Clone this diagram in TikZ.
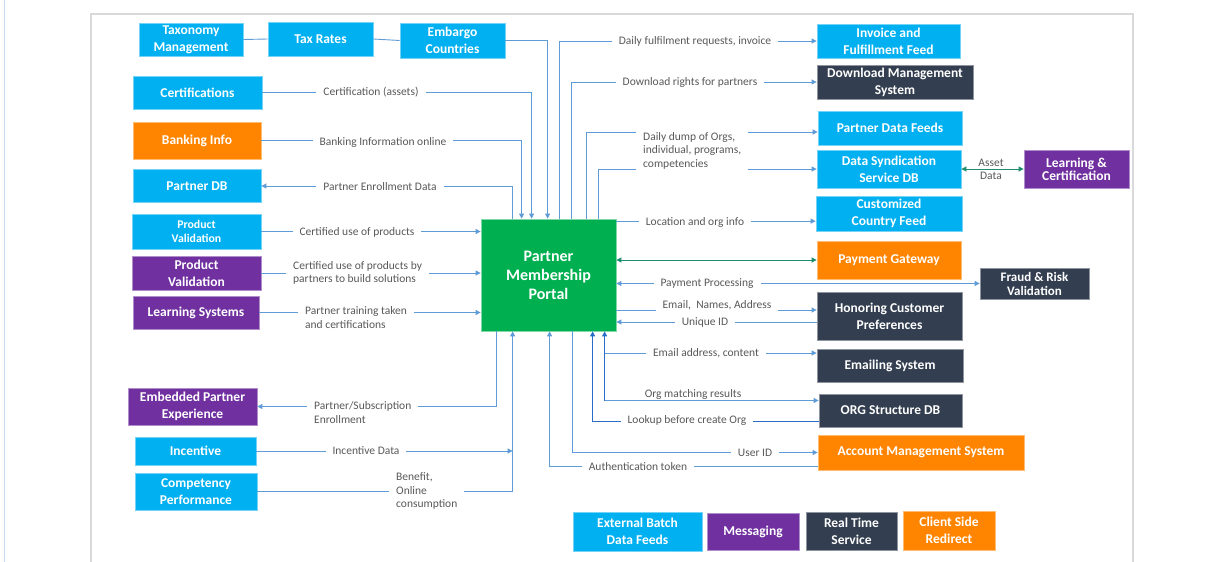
\documentclass[tikz,border=0pt]{standalone}
\usepackage{fontspec}
\setmainfont{Carlito}
\usetikzlibrary{arrows.meta,calc}
\definecolor{cblue}{RGB}{0,176,240}
\definecolor{corange}{RGB}{255,133,0}
\definecolor{cpurple}{RGB}{112,48,160}
\definecolor{cdark}{RGB}{51,63,80}
\definecolor{cgreen}{RGB}{0,176,80}
\definecolor{cteal}{RGB}{30,140,110}
\definecolor{cline}{RGB}{95,155,215}
\definecolor{cdline}{RGB}{40,110,200}
\definecolor{ctext}{RGB}{89,89,89}
\definecolor{cframe}{RGB}{217,217,217}
\definecolor{cedge}{RGB}{200,218,240}
\begin{document}
\begin{tikzpicture}[x=1pt,y=-1pt,
  >={Triangle[length=5pt,width=5pt]},
  box/.style={rectangle, text=white, font=\bfseries\fontsize{13.5}{17}\selectfont, align=center, inner sep=0pt, line width=0.8pt},
  sz/.style 2 args={minimum width=#1pt, minimum height=#2pt},
  bluebox/.style={box, fill=cblue, draw=cblue!55!white},
  orangebox/.style={box, fill=corange, draw=corange!55!white},
  purplebox/.style={box, fill=cpurple, draw=cpurple!55!white},
  darkbox/.style={box, fill=cdark, draw=cdark!55!white},
  portalbox/.style={box, fill=cgreen, draw=cgreen!50!white, font=\bfseries\fontsize{16}{19}\selectfont},
  conn/.style={draw=cline, line width=0.9pt},
  dconn/.style={draw=cdline, line width=0.9pt},
  tconn/.style={draw=cteal, line width=0.9pt},
  lbl/.style={fill=white, text=ctext, font=\fontsize{11.5}{13.5}\selectfont, inner xsep=7pt, inner ysep=1.5pt, align=left},
  lblw/.style={lbl, anchor=west}
]
\useasboundingbox (0,0) rectangle (1229,562);
\fill[white] (0,0) rectangle (1229,562);
\draw[cedge, line width=1.5pt] (4.5,0) -- (4.5,562);
\draw[cframe, line width=1.2pt] (91,562) -- (91,14) -- (1133,14) -- (1133,562);

% left nodes
\node[bluebox, sz={104}{33}] (tax) at (191,39.5) {Taxonomy\\Management};
\node[bluebox, sz={105}{34}] (taxr) at (320.5,39) {Tax Rates};
\node[bluebox, sz={105}{35}] (emb) at (452.5,40.5) {Embargo\\Countries};
\node[bluebox, sz={129}{33}] (cert) at (197.5,92.5) {Certifications};
\node[orangebox, sz={128}{37}] (bank) at (197,140.5) {Banking Info};
\node[bluebox, sz={128}{33}] (pdb) at (197,186) {Partner DB};
\node[bluebox, sz={129}{35}, font=\bfseries\fontsize{11.8}{14}\selectfont] (pv1) at (196.5,231.5) {Product\\Validation};
\node[purplebox, sz={129}{34}] (pv2) at (196.5,273) {Product\\Validation};
\node[purplebox, sz={126}{33}] (ls) at (196,312.5) {Learning Systems};
\node[purplebox, sz={129}{37}] (epe) at (192.5,406.5) {Embedded Partner\\Experience};
\node[bluebox, sz={121}{28}] (inc) at (195.5,451) {Incentive};
\node[bluebox, sz={122}{37}] (comp) at (196,491.5) {Competency\\Performance};
\node[portalbox, sz={135}{112}] (portal) at (548.5,275) {Partner\\Membership\\Portal};

% right nodes
\node[bluebox, sz={143}{34}] (inv) at (888.5,41) {Invoice and\\Fulfillment Feed};
\node[darkbox, sz={156}{34}] (dms) at (895,82) {Download Management\\System};
\node[bluebox, sz={144}{34}] (pdf) at (890,128) {Partner Data Feeds};
\node[bluebox, sz={144}{38}] (dss) at (889,169) {Data Syndication\\Service DB};
\node[purplebox, sz={105}{38}, font=\bfseries\fontsize{13.5}{13}\selectfont] (lc) at (1076.5,169) {Learning \&\\Certification};
\node[bluebox, sz={146}{35}] (ccf) at (889,213.5) {Customized\\Country Feed};
\node[orangebox, sz={144}{38}] (pg) at (889,260) {Payment Gateway};
\node[darkbox, sz={109}{31}, font=\bfseries\fontsize{13}{14}\selectfont] (frv) at (1034.5,283.5) {Fraud \& Risk\\Validation};
\node[darkbox, sz={145}{48}] (hcp) at (889.5,316) {Honoring Customer\\Preferences};
\node[darkbox, sz={146}{33}] (ems) at (890,365.5) {Emailing System};
\node[darkbox, sz={143}{33}] (org) at (890.5,410.5) {ORG Structure DB};
\node[orangebox, sz={206}{35}] (ams) at (921,452.5) {Account Management System};

% legend
\node[bluebox, sz={129}{39}] (lg1) at (637.5,531.5) {External Batch\\Data Feeds};
\node[purplebox, sz={92}{37}] (lg2) at (753,531.5) {Messaging};
\node[darkbox, sz={91}{38}] (lg3) at (851.5,531) {Real Time\\Service};
\node[orangebox, sz={92}{39}] (lg4) at (949,530.5) {Client Side\\Redirect};

\coordinate (pn) at (portal.north west);
\coordinate (ps) at (portal.south west);

% top left connectors
\draw[conn] (tax.east) -- (taxr.west);
\draw[conn] (taxr.east) -- (emb.west);
\draw[conn,->] (emb.east) -| ($(pn)+(67,0)$);
\draw[conn,->] (cert.east) -| ($(pn)+(51,0)$);
\draw[conn,->] (bank.east) -| ($(pn)+(41,0)$);
\draw[conn,->] ($(pn)+(32,0)$) |- (pdb.east);
% top right connectors
\draw[conn,->] ($(pn)+(79,0)$) |- (inv.west);
\draw[conn,->] ($(pn)+(91,0)$) |- (dms.west);
\draw[conn,->] ($(pn)+(106,0)$) |- ($(pdf.west)+(0,4)$);
\draw[conn,->] ($(pn)+(118,0)$) |- (dss.west);
% left side
\draw[conn,->] (pv1.east) -- (pv1.east -| portal.west);
\draw[conn,->] (pv2.east) -- (pv2.east -| portal.west);
\draw[conn,->] (ls.east) -- (ls.east -| portal.west);
% bottom
\draw[conn,->] ($(ps)+(16,0)$) |- (epe.east);
\coordinate (vb) at ($(ps)+(32,0)$);
\draw[conn,->] (inc.east) -- (inc.east -| vb);
\draw[conn,->] (comp.east) -| (vb);
\draw[conn,->] ($(ams.west)+(0,13.5)$) -| ($(ps)+(69,0)$);
\draw[conn,->] ($(ps)+(92,0)$) |- (ams.west);
\draw[dconn,->] ($(org.west)+(0,10.5)$) -| ($(ps)+(112,0)$);
\coordinate (v605) at ($(ps)+(124,0)$);
\coordinate (o1) at ($(org.west)+(0,-10)$);
\draw[conn,->] (o1 -| v605) -- (o1);
\draw[dconn,->] (o1 -| v605) -- (v605);
\coordinate (e1) at ($(ems.west)+(0,-12.5)$);
\draw[conn,->] (e1 -| v605) -- (e1);
% right side
\coordinate (loc) at ($(portal.north east)+(0,2.5)$);
\draw[conn,->] (loc) -- (loc -| ccf.west);
\draw[tconn,<->] (pg.west -| portal.east) -- (pg.west);
\draw[conn,<->] (frv.west -| portal.east) -- (frv.west);
\coordinate (h1) at ($(hcp.west)+(0,-6)$);
\draw[conn,->] (h1 -| portal.east) -- (h1);
\coordinate (h2) at ($(hcp.west)+(0,6)$);
\draw[conn,<-] (h2 -| portal.east) -- (h2);
\draw[tconn,<->] (dss.east) -- (lc.west);

% labels
\node[lbl] (l1) at (371,92) {Certification (assets)};
\node[lbl] (l2) at (383,142) {Banking Information online};
\node[lbl] (l3) at (380,187) {Partner Enrollment Data};
\node[lbl] (l4) at (357,232) {Certified use of products};
\node[lblw] (l5) at (286,273) {Certified use of products by\\partners to build solutions};
\node[lblw] (l6) at (298,317.5) {Partner training taken\\and certifications};
\node[lblw] (l7) at (307,412.5) {Partner/Subscription\\Enrollment};
\node[lbl] (l8) at (366,451) {Incentive Data};
\node[lblw] (l9) at (389,491) {Benefit,\\Online\\consumption};
\node[lbl] (l10) at (695,41) {Daily fulfilment requests, invoice};
\node[lbl] (l11) at (690,82) {Download rights for partners};
\node[lblw] (l12) at (636,150.5) {Daily dump of Orgs,\\individual, programs,\\competencies};
\node[lbl] (l13) at (695,222) {Location and org info};
\node[lbl] (l14) at (707,284) {Payment Processing};
\node[lbl] (l15) at (717,305) {Email,\ \ Names, Address};
\node[lbl] (l16) at (705,322) {Unique ID};
\node[lbl] (l17) at (706,353) {Email address, content};
\node[lbl] (l18) at (693,394) {Org matching results};
\node[lbl] (l19) at (687,420) {Lookup before create Org};
\node[lbl] (l20) at (755,453) {User ID};
\node[lbl] (l21) at (638,467) {Authentication token};
\node[lbl, fill=none, align=center, font=\fontsize{11.5}{13}\selectfont] (l22) at (991,169.5) {Asset\\Data};
\end{tikzpicture}
\end{document}
